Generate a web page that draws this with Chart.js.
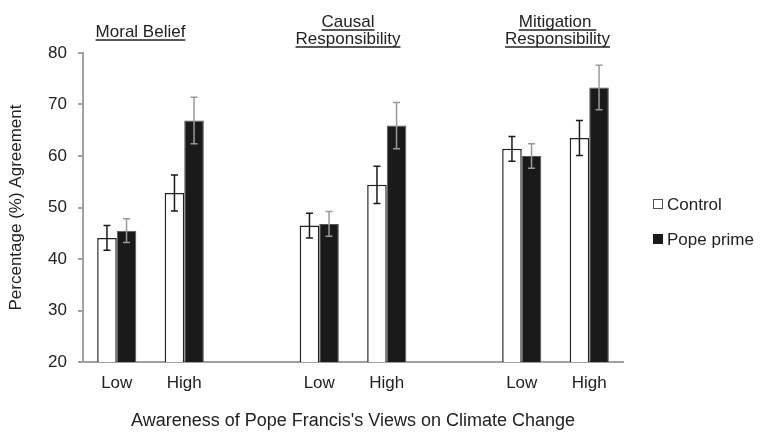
<!DOCTYPE html>
<html>
<head>
<meta charset="utf-8">
<script src="https://cdn.jsdelivr.net/npm/chart.js@4.4.1/dist/chart.umd.min.js"></script>
<style>
  html, body { margin: 0; padding: 0; background: #fff; }
  #wrap { width: 762px; height: 439px; }
</style>
</head>
<body>
<div id="wrap"><canvas id="chart" width="762" height="439"></canvas></div>
<script>
const categories = ["Low", "High", "", "Low", "High", "", "Low", "High"];
const controlValues = [44.1, 52.8, null, 46.5, 54.4, null, 61.4, 63.5];
const controlErrors = [2.4, 3.5, null, 2.4, 3.6, null, 2.4, 3.4];
const popeValues = [45.5, 66.9, null, 46.8, 65.9, null, 60.0, 73.3];
const popeErrors = [2.3, 4.5, null, 2.4, 4.5, null, 2.4, 4.3];
const yTicks = [20, 30, 40, 50, 60, 70, 80];
const groupTitles = [
  { lines: ["Moral Belief"], from: 0, to: 1 },
  { lines: ["Causal", "Responsibility"], from: 3, to: 4 },
  { lines: ["Mitigation ", "Responsibility"], from: 6, to: 7 }
];
const seriesNames = ["Control", "Pope prime"];

const FONT = "'Liberation Sans', Arial, sans-serif";
const TEXT = "#222";
const AXIS = "#a0a0a0";

// error bars, drawn at each bar centre using the y scale
const errorBars = {
  id: "errorBars",
  afterDatasetsDraw(chart) {
    const ctx = chart.ctx;
    const y = chart.scales.y;
    chart.data.datasets.forEach((ds, di) => {
      const meta = chart.getDatasetMeta(di);
      meta.data.forEach((bar, i) => {
        const v = ds.data[i];
        const e = ds.errors[i];
        if (v == null || e == null) return;
        const top = y.getPixelForValue(v + e);
        const bot = y.getPixelForValue(v - e);
        ctx.save();
        ctx.strokeStyle = ds.errorColor;
        ctx.lineWidth = 1.5;
        ctx.beginPath();
        ctx.moveTo(bar.x, top);
        ctx.lineTo(bar.x, bot);
        ctx.moveTo(bar.x - 3.5, top);
        ctx.lineTo(bar.x + 3.5, top);
        ctx.moveTo(bar.x - 3.5, bot);
        ctx.lineTo(bar.x + 3.5, bot);
        ctx.stroke();
        ctx.restore();
      });
    });
  }
};

// underlined titles above each group + legend on the right
const annotations = {
  id: "annotations",
  afterDraw(chart) {
    const ctx = chart.ctx;
    const x = chart.scales.x;
    ctx.save();
    ctx.font = "17px " + FONT;
    ctx.fillStyle = TEXT;
    ctx.strokeStyle = TEXT;
    ctx.lineWidth = 1.5;
    ctx.textAlign = "center";
    ctx.textBaseline = "alphabetic";
    const offsets = [-10, -5, 2];
    groupTitles.forEach((g, gi) => {
      const cx = (x.getPixelForValue(g.from) + x.getPixelForValue(g.to)) / 2 + offsets[gi];
      const n = g.lines.length;
      g.lines.forEach((line, li) => {
        const base = n === 1 ? 37 : 44 - (n - 1 - li) * 17;
        ctx.fillText(line, cx, base);
        const w = ctx.measureText(line).width;
        ctx.beginPath();
        ctx.moveTo(cx - w / 2, base + 3);
        ctx.lineTo(cx + w / 2, base + 3);
        ctx.stroke();
      });
    });

    // legend
    ctx.textAlign = "left";
    ctx.textBaseline = "middle";
    chart.data.datasets.forEach((ds, i) => {
      const cy = 204 + i * 35;
      ctx.fillStyle = ds.backgroundColor;
      ctx.fillRect(653, cy - 5, 10, 10);
      ctx.strokeStyle = i === 0 ? "#555" : "#1a1a1a";
      ctx.lineWidth = 1;
      ctx.strokeRect(653.5, cy - 4.5, 9, 9);
      ctx.fillStyle = TEXT;
      ctx.fillText(seriesNames[i], 667, cy + 1);
    });
    ctx.restore();
  }
};

new Chart(document.getElementById("chart"), {
  type: "bar",
  data: {
    labels: categories,
    datasets: [
      {
        label: seriesNames[0],
        data: controlValues,
        errors: controlErrors,
        errorColor: "#1a1a1a",
        backgroundColor: "#ffffff",
        borderColor: "#222",
        borderWidth: 1.5,
        categoryPercentage: 0.58,
        barPercentage: 1
      },
      {
        label: seriesNames[1],
        data: popeValues,
        errors: popeErrors,
        errorColor: "#9a9a9a",
        backgroundColor: "#1a1a1a",
        borderColor: "#555",
        borderWidth: 1,
        categoryPercentage: 0.58,
        barPercentage: 1
      }
    ]
  },
  options: {
    responsive: false,
    animation: false,
    layout: { padding: { top: 53, right: 139, left: 0, bottom: 0 } },
    plugins: {
      legend: { display: false },
      tooltip: { enabled: false }
    },
    scales: {
      x: {
        grid: { display: false, drawTicks: false },
        border: { color: AXIS, width: 2 },
        ticks: { color: TEXT, font: { family: FONT, size: 17 }, padding: 11, maxRotation: 0, autoSkip: false },
        title: {
          display: true,
          text: "Awareness of Pope Francis's Views on Climate Change",
          color: TEXT,
          font: { family: FONT, size: 18 },
          padding: { top: 0, bottom: 7 }
        },
        afterFit: (scale) => { scale.height = 77; }
      },
      y: {
        min: 20,
        max: 80,
        afterBuildTicks: (scale) => { scale.ticks = yTicks.map(v => ({ value: v })); },
        grid: { drawOnChartArea: false, drawTicks: true, tickLength: 5, color: AXIS, lineWidth: 2 },
        border: { color: AXIS, width: 2 },
        ticks: { color: TEXT, font: { family: FONT, size: 17 }, padding: 11 },
        title: {
          display: true,
          text: "Percentage (%) Agreement",
          color: TEXT,
          font: { family: FONT, size: 17 },
          padding: { top: 6, bottom: 0 }
        },
        afterFit: (scale) => { scale.width = 83; }
      }
    }
  },
  plugins: [errorBars, annotations]
});
</script>
</body>
</html>
